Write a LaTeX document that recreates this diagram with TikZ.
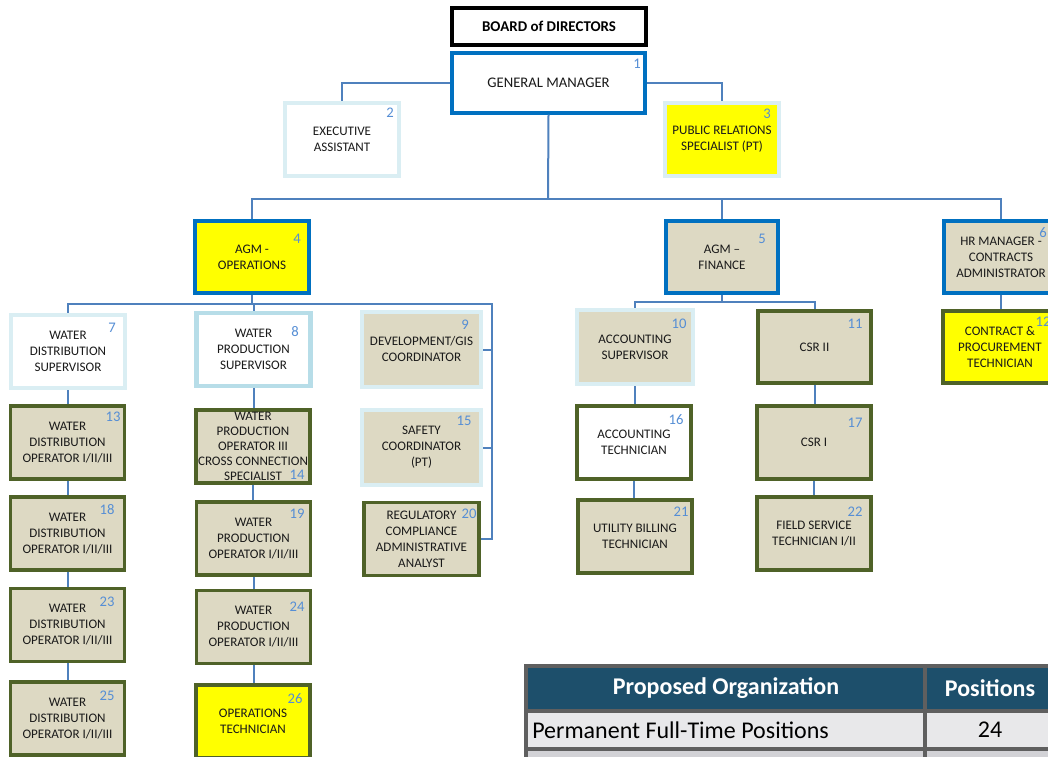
\documentclass[tikz,border=0pt]{standalone}
\usepackage{fontspec}
\setmainfont{Carlito}
\usetikzlibrary{calc}

\definecolor{mgrblue}{HTML}{0070C0}
\definecolor{paleblue}{HTML}{DAEEF3}
\definecolor{skyedge}{HTML}{B7DDE8}
\definecolor{olive}{HTML}{4F6228}
\definecolor{tan}{HTML}{DDD9C3}
\definecolor{hilite}{HTML}{FFFF00}
\definecolor{linkblue}{HTML}{4F81BD}
\definecolor{numblue}{HTML}{558ED5}
\definecolor{tblhead}{HTML}{1D4F6B}
\definecolor{tblgrid}{HTML}{5F5F5F}
\definecolor{rowa}{HTML}{E8E8EA}
\definecolor{rowb}{HTML}{D2D2D6}
\definecolor{txt}{HTML}{1A1A1A}

\tikzset{
  post/.style={draw, rectangle, inner sep=0pt, align=center, text=txt,
    font=\fontsize{9.8}{12}\selectfont,
    minimum width=85.5pt, minimum height=54.75pt},
  bluebox/.style={post, draw=mgrblue, line width=2.3pt},
  palebox/.style={post, draw=paleblue, line width=3pt},
  skybox/.style={post, draw=skyedge, line width=3.4pt},
  greenbox/.style={post, draw=olive, line width=2.3pt},
  num/.style={inner sep=0pt, text=numblue, font=\fontsize{11}{12}\selectfont},
  link/.style={draw=linkblue, line width=1.5pt},
  cell/.style={inner sep=0pt, font=\fontsize{18}{20}\selectfont},
  headcell/.style={cell, text=white, font=\fontsize{18}{20}\selectfont\bfseries}
}

\begin{document}
\begin{tikzpicture}[x=0.75pt, y=-0.75pt]
\useasboundingbox (0,0) rectangle (1048,756);
\clip (0,0) rectangle (1048,756);
\fill[white] (0,0) rectangle (1048,756);

% ---- top of the chart
\node[post, draw=black, line width=2.4pt, minimum width=145.5pt, minimum height=27.75pt,
      font=\fontsize{11.2}{13}\selectfont\bfseries, text=black] (board) at (549,26.5) {BOARD of DIRECTORS};
\node[bluebox, fill=white, minimum width=144.75pt, minimum height=45pt,
      font=\fontsize{11}{13}\selectfont] (gm) at (548.5,83) {GENERAL MANAGER};
\node[palebox, fill=white] (b2) at (342,139.5) {EXECUTIVE\\ASSISTANT};
\node[palebox, fill=hilite] (b3) at (722,139.5) {PUBLIC RELATIONS\\SPECIALIST (PT)};

% ---- assistant general managers
\node[bluebox, fill=hilite, minimum height=54pt] (b4) at (252,257) {AGM -\\OPERATIONS};
\node[bluebox, fill=tan, minimum width=84pt, minimum height=54pt] (b5) at (722,257) {AGM --\\FINANCE};
\node[bluebox, fill=tan, minimum height=54pt] (b6) at (1001,257) {HR MANAGER -\\CONTRACTS\\ADMINISTRATOR};

% ---- operations branch
\node[palebox, fill=white] (b7) at (68,351.5) {WATER\\DISTRIBUTION\\SUPERVISOR};
\node[skybox, fill=white] (b8) at (253.5,349.5) {WATER\\PRODUCTION\\SUPERVISOR};
\node[palebox, fill=tan, minimum width=89.25pt, minimum height=56.25pt] (b9) at (421.5,349.5) {DEVELOPMENT/GIS\\COORDINATOR};
\node[palebox, fill=tan, minimum width=89.25pt, minimum height=56.25pt] (b15) at (421.5,447.5) {SAFETY\\COORDINATOR\\(PT)};
\node[greenbox, fill=tan, minimum width=86.25pt] (b20) at (421.5,539) {REGULATORY\\COMPLIANCE\\ADMINISTRATIVE\\ANALYST};

\node[greenbox, fill=tan] (b13) at (67.5,442.5) {WATER\\DISTRIBUTION\\OPERATOR I/II/III};
\node[greenbox, fill=tan] (b18) at (67.5,533.5) {WATER\\DISTRIBUTION\\OPERATOR I/II/III};
\node[greenbox, fill=tan] (b23) at (67.5,625) {WATER\\DISTRIBUTION\\OPERATOR I/II/III};
\node[greenbox, fill=tan] (b25) at (67.5,718.5) {WATER\\DISTRIBUTION\\OPERATOR I/II/III};

\node[greenbox, fill=tan, font=\fontsize{9.8}{11.25}\selectfont] (b14) at (253,446.5)
  {WATER\\PRODUCTION\\OPERATOR III\\CROSS CONNECTION\\SPECIALIST};
\node[greenbox, fill=tan] (b19) at (253.5,538.5) {WATER\\PRODUCTION\\OPERATOR I/II/III};
\node[greenbox, fill=tan] (b24) at (253.5,627) {WATER\\PRODUCTION\\OPERATOR I/II/III};
\node[greenbox, fill=hilite] (b26) at (253,721.5) {OPERATIONS\\TECHNICIAN};

% ---- finance branch
\node[palebox, fill=tan, minimum width=87pt, minimum height=55.5pt] (b10) at (635,347) {ACCOUNTING\\SUPERVISOR};
\node[greenbox, fill=tan, minimum width=84.75pt, minimum height=54pt] (b11) at (814.5,347) {CSR II};
\node[greenbox, fill=white] (b16) at (634,442.5) {ACCOUNTING\\TECHNICIAN};
\node[greenbox, fill=tan] (b17) at (814,442.5) {CSR I};
\node[greenbox, fill=tan] (b21) at (635,536.5) {UTILITY BILLING\\TECHNICIAN};
\node[greenbox, fill=tan] (b22) at (814,533.5) {FIELD SERVICE\\TECHNICIAN I/II};

% ---- human resources branch
\node[greenbox, fill=hilite, minimum height=54pt] (b12) at (1000,347) {CONTRACT \&\\PROCUREMENT\\TECHNICIAN};

% ---- position numbers
\node[num] (n1) at (637,64) {1};
\node[num] (n2) at (390,113) {2};
\node[num] (n3) at (767,114) {3};
\node[num] (n4) at (297,239) {4};
\node[num] (n5) at (762,239) {5};
\node[num] (n6) at (1043,233) {6};
\node[num] (n7) at (112,328) {7};
\node[num] (n8) at (295,332) {8};
\node[num] (n9) at (465,325) {9};
\node[num] (n10) at (679,324) {10};
\node[num] (n11) at (855,324) {11};
\node[num] (n12) at (1043,322) {12};
\node[num] (n13) at (113,417) {13};
\node[num] (n14) at (297,475) {14};
\node[num] (n15) at (464,421) {15};
\node[num] (n16) at (676,420) {16};
\node[num] (n17) at (855,423) {17};
\node[num] (n18) at (107,510) {18};
\node[num] (n19) at (297,514) {19};
\node[num] (n20) at (469,514) {20};
\node[num] (n21) at (681,512) {21};
\node[num] (n22) at (855,512) {22};
\node[num] (n23) at (107,602) {23};
\node[num] (n24) at (297,607) {24};
\node[num] (n25) at (107,696) {25};
\node[num] (n26) at (295,699) {26};

% ---- reporting lines
\coordinate (busA) at (548,199);
\coordinate (busB) at (252,304);
\coordinate (railtop) at (492,304);
\coordinate (railbot) at (492,539);
\coordinate (busD) at (722,302);

\draw[link] (gm.west) -| (b2.north);
\draw[link] (gm.east) -| (b3.north);
\draw[link] (gm.south) -- (busA);
\draw[link] (busA) -| (b4.north);
\draw[link] (busA) -| (b5.north);
\draw[link] (busA) -| (b6.north);

\draw[link] (b4.south) -- (busB);
\draw[link] (busB) -| (b7.north);
\draw[link] (busB) -| (b8.north);
\draw[link] (busB) -- (railtop) -- (railbot) -- (b20.east);
\draw[link] (b9.east) -- (b9.east -| railtop);
\draw[link] (b15.east) -- (b15.east -| railtop);

\draw[link] (b7.south) -- (b7.south |- b13.north);
\draw[link] (b13.south) -- (b18.north);
\draw[link] (b18.south) -- (b23.north);
\draw[link] (b23.south) -- (b25.north);

\draw[link] (b8.south) -- (b8.south |- b14.north);
\draw[link] (b14.south) -- (b14.south |- b19.north);
\draw[link] (b19.south) -- (b24.north);
\draw[link] (b24.south) -- (b24.south |- b26.north);

\draw[link] (b5.south) -- (busD);
\draw[link] (busD) -| (b10.north);
\draw[link] (busD) -| (b11.north);
\draw[link] (b10.south) -- (b10.south |- b16.north);
\draw[link] (b16.south) -- (b16.south |- b21.north);
\draw[link] (b11.south) -- (b11.south |- b17.north);
\draw[link] (b17.south) -- (b22.north);

\draw[link] (b6.south) -- (b6.south |- b12.north);

% ---- position summary table
\fill[tblhead] (525,665) rectangle (1060,711);
\fill[rowa] (525,711) rectangle (1060,749);
\fill[rowb] (525,749) rectangle (1060,770);
\draw[tblgrid, line width=3pt]
  (525.5,665.5) -- (1060,665.5)
  (525.5,711) -- (1060,711)
  (525.5,749) -- (1060,749)
  (525.5,664) -- (525.5,770)
  (924.5,664) -- (924.5,770);
\node[headcell] (thA) at (726,688) {Proposed Organization};
\node[headcell] (thB) at (990,688) {Positions};
\node[cell, anchor=west, text=black] (tdA) at (532,730) {Permanent Full-Time Positions};
\node[cell, text=black] (tdB) at (990,730) {24};
\end{tikzpicture}
\end{document}
